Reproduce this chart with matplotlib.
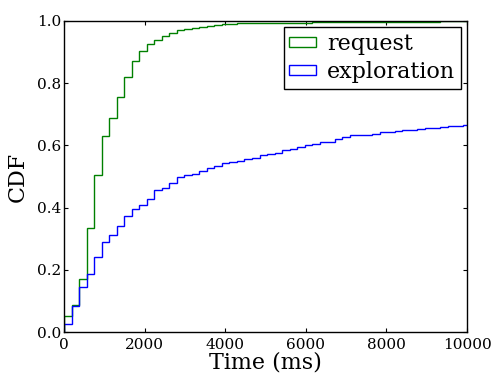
import numpy as np
import matplotlib
matplotlib.use("Agg")
import matplotlib.pyplot as plt

plt.rcParams['font.family'] = ['DejaVu Serif']

BIN_MS = 186.6

request_cdf = [0.050, 0.086, 0.172, 0.333, 0.506, 0.631, 0.689, 0.755, 0.821, 0.871,
               0.905, 0.925, 0.939, 0.953, 0.962, 0.971, 0.974, 0.978, 0.982, 0.984,
               0.987, 0.989, 0.991, 0.992, 0.992, 0.993, 0.993, 0.993, 0.994, 0.994,
               0.994, 0.994, 0.995, 0.996, 0.996, 0.996, 0.996, 0.996, 0.996, 0.996,
               0.996, 0.997, 0.997, 0.997, 0.997, 0.997, 0.997, 0.997, 0.997, 0.997,
               1.000, 1.000, 1.000, 1.000]

exploration_cdf = [0.025, 0.084, 0.145, 0.188, 0.241, 0.288, 0.313, 0.341, 0.373, 0.394,
                   0.407, 0.428, 0.455, 0.464, 0.480, 0.497, 0.504, 0.509, 0.519, 0.528,
                   0.534, 0.542, 0.547, 0.550, 0.556, 0.561, 0.569, 0.573, 0.577, 0.584,
                   0.590, 0.596, 0.600, 0.605, 0.610, 0.612, 0.619, 0.628, 0.632, 0.634,
                   0.635, 0.637, 0.642, 0.644, 0.645, 0.648, 0.651, 0.652, 0.655, 0.657,
                   0.659, 0.662, 0.663, 0.664]

series_labels = ["request", "exploration"]
series_colors = ["#008000", "#0000ff"]

x_ticks = [0, 2000, 4000, 6000, 8000, 10000]
y_ticks = [0.0, 0.2, 0.4, 0.6, 0.8, 1.0]

fig = plt.figure(figsize=(4.94, 3.76), dpi=100)
fig.patch.set_facecolor('white')
ax = fig.add_axes([64/494, 1 - 332/376, (467 - 64)/494, (332 - 21)/376])

for cdf, lab, col in zip([request_cdf, exploration_cdf], series_labels, series_colors):
    cdf = np.asarray(cdf)
    edges = np.arange(len(cdf) + 1) * BIN_MS
    weights = np.diff(cdf, prepend=0.0)
    ax.hist(edges[:-1], bins=edges, weights=weights, cumulative=True,
            histtype='step', color=col, linewidth=1.0, label=lab)

ax.set_xlim(0, 10000)
ax.set_ylim(0, 1.0)
ax.set_xticks(x_ticks)
ax.set_yticks(y_ticks)
ax.set_yticklabels([f"{v:.1f}" for v in y_ticks])
ax.tick_params(direction='in', top=True, right=True, length=3, width=0.8,
               labelsize=11)
ax.tick_params(axis='y', pad=2)
ax.tick_params(axis='x', pad=4)
for s in ax.spines.values():
    s.set_linewidth(1.0)

ax.set_xlabel("Time (ms)", fontsize=16, labelpad=0)
ax.set_ylabel("CDF", fontsize=16, labelpad=6)

leg = ax.legend(loc='upper right', fontsize=16, frameon=True, fancybox=False,
                handlelength=1.2, handleheight=0.35, labelspacing=0.28,
                borderpad=0.25, borderaxespad=0.28, handletextpad=0.5)
leg.get_frame().set_edgecolor('black')
leg.get_frame().set_linewidth(1.0)
leg.get_frame().set_alpha(1.0)

fig.savefig("out.png", dpi=100, facecolor='white')
